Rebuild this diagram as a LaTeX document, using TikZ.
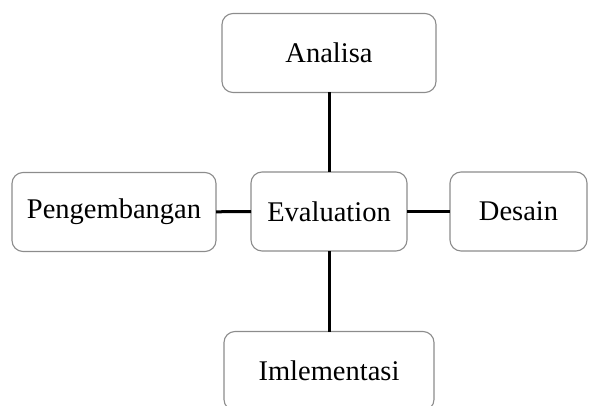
\documentclass[tikz,border=0pt]{standalone}
\usepackage{fontspec}
\setmainfont{Liberation Serif}
\usepackage{tikz}

\begin{document}
\begin{tikzpicture}[
            x=1pt, y=1pt,
            stage/.style={rectangle,rounded corners=11pt,draw=black!45,
                line width=1.1pt,minimum width=#1,minimum height=79pt,
                inner sep=0pt, outer sep=0pt,
                font=\fontsize{28.5}{34}\selectfont},
            stage/.default=156pt,
            link/.style={line width=3pt,black}
        ]
        \useasboundingbox (0, 0) rectangle (589, -406);
        \node[stage=214pt] (analisa) at (329, -53) {Analisa};
        \node[stage] (eval) at (329, -211.5) {Evaluation};
        \node[stage=204pt] (pengembangan) at (114, -212) {Pengembangan};
        \node[stage=137pt] (desain) at (518.5, -211.5) {Desain};
        \node[stage=210pt] (implementasi) at (329, -371) {Imlementasi};
        \draw[link] (analisa) -- (eval);
        \draw[link] (eval) -- (implementasi);
        \draw[link] (pengembangan) -- (eval);
        \draw[link] (eval) -- (desain);
    \end{tikzpicture}
\end{document}
